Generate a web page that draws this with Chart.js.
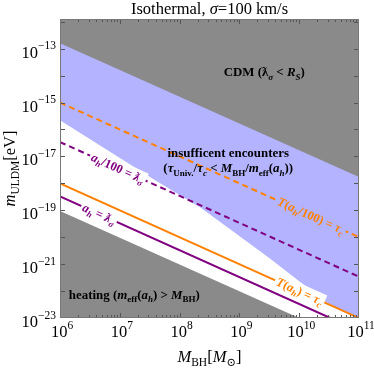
<!DOCTYPE html>
<html><head><meta charset="utf-8">
<script src="https://cdn.jsdelivr.net/npm/chart.js@4/dist/chart.umd.min.js"></script>
<style>html,body{margin:0;padding:0;background:#fff;overflow:hidden}</style>
</head><body>
<canvas id="c" width="374" height="368"></canvas>
<script>
// ---------- data ----------
const massMin = 1e6, massMax = 1e11;
const mMin = 1e-23, mMax = 1.26e-12;
const massMajorTicks = [1e6, 1e7, 1e8, 1e9, 1e10, 1e11];
const massTickExponents = ['6', '7', '8', '9', '10', '11'];
const mDecadeTicks = [1e-23,1e-22,1e-21,1e-20,1e-19,1e-18,1e-17,1e-16,1e-15,1e-14,1e-13,1e-12];
const mLabelTicks = [1e-23, 1e-21, 1e-19, 1e-17, 1e-15, 1e-13];
const mTickExponents = ['\u221223', '\u221221', '\u221219', '\u221217', '\u221215', '\u221213'];

// region boundaries
const cdmMass = [1e6, 1e11];
const cdmBoundary = [1.6e-13, 1.7e-18];
const encMass = [1e6, 3.9e7, 2.2e8, 3.2e9, 3.3e10, 1e11];
const encBoundary = [2.2e-16, 1.3e-18, 1.3e-19, 1.65e-21, 3.0e-23, 1.0e-23];
const heatMass = [1e6, 1e10];
const heatBoundary = [9.3e-20, 1e-23];

// curves
const orangeDashedMass = [1e6, 1e11];
const orangeDashed = [1e-15, 1e-20];
const orangeSolidMass = [1e6, 1e11];
const orangeSolid = [1e-18, 1e-23];
const purpleDashedMass = [1e6, 1e11];
const purpleDashed = [3.4e-17, 3.4e-22];
const purpleSolidMass = [1e6, 3.3e10];
const purpleSolid = [3.3e-19, 1e-23];

// ---------- styling ----------
const GRAY = 'rgb(138,138,138)';
const BLUE = 'rgb(179,179,255)';
const ORANGE = '#ff8000';
const PURPLE = '#800080';
const FONT = '"Liberation Serif", "DejaVu Serif", serif';

function pts(xs, ys) { return xs.map((v, i) => ({x: v, y: ys[i]})); }
function logInterp(xs, ys, xv) {
  const lx = Math.log10(xv);
  for (let i = 0; i < xs.length - 1; i++) {
    const a = Math.log10(xs[i]), b = Math.log10(xs[i + 1]);
    if (lx >= a && lx <= b) {
      const t = (lx - a) / (b - a);
      return Math.pow(10, Math.log10(ys[i]) + t * (Math.log10(ys[i + 1]) - Math.log10(ys[i])));
    }
  }
  return ys[ys.length - 1];
}

function segFont(seg, size, bold) {
  const small = seg.s === 'sub' || seg.s === 'sup';
  const px = small ? size * 0.7 : size;
  return (seg.it ? 'italic ' : '') + (bold ? 'bold ' : '') + px.toFixed(1) + 'px ' + FONT;
}
function richWidth(ctx, segs, size, bold) {
  let w = 0;
  for (const s of segs) { ctx.font = segFont(s, size, bold); w += ctx.measureText(s.t).width; }
  return w;
}
function drawRich(ctx, segs, x, y, size, opt) {
  opt = opt || {};
  const bold = !!opt.bold;
  const w = richWidth(ctx, segs, size, bold);
  let cx = x;
  if (opt.align === 'center') cx = x - w / 2;
  else if (opt.align === 'right') cx = x - w;
  ctx.fillStyle = opt.color || '#000';
  ctx.textBaseline = 'alphabetic';
  ctx.textAlign = 'left';
  for (const s of segs) {
    ctx.font = segFont(s, size, bold);
    let dy = 0;
    if (s.s === 'sub') dy = size * 0.25;
    if (s.s === 'sup') dy = -size * (opt.supRaise || 0.45);
    ctx.fillText(s.t, cx, y + dy);
    cx += ctx.measureText(s.t).width;
  }
  return w;
}

// ---------- labels ----------
const lineLabels = [
  {xs: purpleDashedMass, ys: purpleDashed, at: 9.3e6, color: PURPLE, bg: '#fff',
   segs: [{t:'a',it:1},{t:'h',it:1,s:'sub'},{t:'/100 = '},{t:'\u019B',it:1},{t:'\u03C3',it:1,s:'sub'}]},
  {xs: purpleSolidMass, ys: purpleSolid, at: 4.5e6, color: PURPLE, bg: '#fff',
   segs: [{t:'a',it:1},{t:'h',it:1,s:'sub'},{t:' = '},{t:'\u019B',it:1},{t:'\u03C3',it:1,s:'sub'}]},
  {xs: orangeDashedMass, ys: orangeDashed, at: 1.58e10, color: ORANGE, bg: BLUE,
   segs: [{t:'T',it:1},{t:'('},{t:'a',it:1},{t:'h',it:1,s:'sub'},{t:'/100) = '},{t:'\u03C4',it:1},{t:'c',it:1,s:'sub'}]},
  {xs: orangeSolidMass, ys: orangeSolid, at: 1.02e10, color: ORANGE, bg: '#fff',
   segs: [{t:'T',it:1},{t:'('},{t:'a',it:1},{t:'h',it:1,s:'sub'},{t:') = '},{t:'\u03C4',it:1},{t:'c',it:1,s:'sub'}]}
];
const regionLabels = [
  {x: 2.6e9, y: 1.32e-14, segs: [{t:'CDM ('},{t:'\u019B'},{t:'\u03C3',it:1,s:'sub'},{t:' < '},{t:'R',it:1},{t:'S',it:1,s:'sub'},{t:')'}]},
  {x: 6.5e8, y: 1.29e-17, segs: [{t:'insufficent encounters'}]},
  {x: 6.5e8, y: 3.6e-18, segs: [{t:'('},{t:'\u03C4',it:1},{t:'Univ.',s:'sub'},{t:'/'},{t:'\u03C4',it:1},{t:'c',it:1,s:'sub'},{t:' < '},{t:'M',it:1},{t:'BH',s:'sub'},{t:'/'},{t:'m',it:1},{t:'eff',s:'sub'},{t:'('},{t:'a',it:1},{t:'h',it:1,s:'sub'},{t:'))'}]},
  {x: 1.75e7, y: 7.1e-23, segs: [{t:'heating ('},{t:'m',it:1},{t:'eff',s:'sub'},{t:'('},{t:'a',it:1},{t:'h',it:1,s:'sub'},{t:') > '},{t:'M',it:1},{t:'BH',s:'sub'},{t:')'}]}
];
const titleSegs = [{t:'Isothermal, '},{t:'\u03C3',it:1},{t:'=100 km/s'}];
const xTitleSegs = [{t:'M',it:1},{t:'BH',s:'sub'},{t:'['},{t:'M',it:1},{t:'\u2299',s:'sub'},{t:']'}];
const yTitleSegs = [{t:'m',it:1},{t:'ULDM',s:'sub'},{t:'[eV]'}];

const overlay = {
  id: 'overlay',
  afterDatasetsDraw(chart) {
    const {ctx, chartArea: a, scales: {x, y}} = chart;
    ctx.save();
    // labels along curves
    for (const L of lineLabels) {
      const px = x.getPixelForValue(L.at), py = y.getPixelForValue(logInterp(L.xs, L.ys, L.at));
      const p0x = x.getPixelForValue(L.xs[0]), p0y = y.getPixelForValue(L.ys[0]);
      const p1x = x.getPixelForValue(L.xs[L.xs.length-1]), p1y = y.getPixelForValue(L.ys[L.ys.length-1]);
      const ang = Math.atan2(p1y - p0y, p1x - p0x);
      const size = 12.5;
      ctx.save();
      ctx.translate(px, py); ctx.rotate(ang);
      const w = richWidth(ctx, L.segs, size, true);
      ctx.fillStyle = L.bg;
      ctx.fillRect(-w/2 - 2, -size*0.6, w + 4, size*1.2);
      drawRich(ctx, L.segs, 0, size*0.33, size, {align:'center', bold:true, color:L.color});
      ctx.restore();
    }
    // region labels
    for (const R of regionLabels) {
      drawRich(ctx, R.segs, x.getPixelForValue(R.x), y.getPixelForValue(R.y) + 4, 12.9, {align:'center', bold:true, color:'#000'});
    }
    // ticks
    ctx.strokeStyle = '#555'; ctx.lineWidth = 1;
    ctx.beginPath();
    for (let e = 6; e < 11; e++) {
      for (let k = 1; k <= 9; k++) {
        const v = k * Math.pow(10, e);
        const p = Math.round(x.getPixelForValue(v)) + 0.5;
        const len = k === 1 ? 5 : 3;
        ctx.moveTo(p, a.bottom); ctx.lineTo(p, a.bottom - len);
        ctx.moveTo(p, a.top); ctx.lineTo(p, a.top + len);
      }
    }
    {
      const p = Math.round(x.getPixelForValue(massMax)) - 0.5;
      ctx.moveTo(p, a.bottom); ctx.lineTo(p, a.bottom - 5);
      ctx.moveTo(p, a.top); ctx.lineTo(p, a.top + 5);
    }
    for (const v of mDecadeTicks) {
      const p = Math.round(y.getPixelForValue(v)) + 0.5;
      if (p < a.top || p > a.bottom) continue;
      ctx.moveTo(a.left, p); ctx.lineTo(a.left + 5, p);
      ctx.moveTo(a.right, p); ctx.lineTo(a.right - 5, p);
    }
    ctx.stroke();
    // frame
    ctx.strokeStyle = '#777';
    ctx.strokeRect(a.left + 0.5, a.top + 0.5, a.right - a.left - 1, a.bottom - a.top - 1);
    // x tick labels
    massMajorTicks.forEach((v, i) => {
      drawRich(ctx, [{t:'10'},{t:massTickExponents[i],s:'sup'}], x.getPixelForValue(v) + 2, a.bottom + 19, 16.5, {align:'center', supRaise:0.5});
    });
    // y tick labels
    mLabelTicks.forEach((v, i) => {
      drawRich(ctx, [{t:'10'},{t:mTickExponents[i],s:'sup'}], a.left - 4, y.getPixelForValue(v) + 9, 16.5, {align:'right', supRaise:0.5});
    });
    // titles
    drawRich(ctx, titleSegs, (a.left + a.right) / 2, 14, 16.5, {align:'center'});
    drawRich(ctx, xTitleSegs, (a.left + a.right) / 2, 362, 16.5, {align:'center'});
    ctx.save();
    ctx.translate(15, (a.top + a.bottom) / 2);
    ctx.rotate(-Math.PI / 2);
    drawRich(ctx, yTitleSegs, 0, 0, 16.5, {align:'center'});
    ctx.restore();
    ctx.restore();
  }
};

const noLine = 'rgba(0,0,0,0)';
new Chart(document.getElementById('c'), {
  type: 'line',
  data: {
    datasets: [
      {label: 'T(a_h/100) = tau_c', data: pts(orangeDashedMass, orangeDashed), borderColor: ORANGE, borderWidth: 2, borderDash: [6, 4], pointRadius: 0, fill: false},
      {label: 'T(a_h) = tau_c', data: pts(orangeSolidMass, orangeSolid), borderColor: ORANGE, borderWidth: 2, pointRadius: 0, fill: false},
      {label: 'a_h/100 = lambda', data: pts(purpleDashedMass, purpleDashed), borderColor: PURPLE, borderWidth: 2, borderDash: [6, 4], pointRadius: 0, fill: false},
      {label: 'a_h = lambda', data: pts(purpleSolidMass, purpleSolid), borderColor: PURPLE, borderWidth: 2, pointRadius: 0, fill: false},
      {label: 'CDM', data: pts(cdmMass, cdmBoundary), borderColor: noLine, borderWidth: 1, pointRadius: 0, fill: 'end', backgroundColor: GRAY},
      {label: 'heating', data: pts(heatMass, heatBoundary), borderColor: noLine, borderWidth: 1, pointRadius: 0, fill: 'start', backgroundColor: GRAY},
      {label: 'insufficient encounters', data: pts(encMass, encBoundary), borderColor: noLine, borderWidth: 1, pointRadius: 0, fill: 'end', backgroundColor: BLUE}
    ]
  },
  options: {
    responsive: false, animation: false,
    layout: {padding: {left: 60, right: 15, top: 19, bottom: 50}},
    plugins: {legend: {display: false}, tooltip: {enabled: false}, title: {display: false}},
    scales: {
      x: {type: 'logarithmic', min: massMin, max: massMax, display: false},
      y: {type: 'logarithmic', min: mMin, max: mMax, display: false}
    }
  },
  plugins: [overlay]
});
</script>
</body></html>
